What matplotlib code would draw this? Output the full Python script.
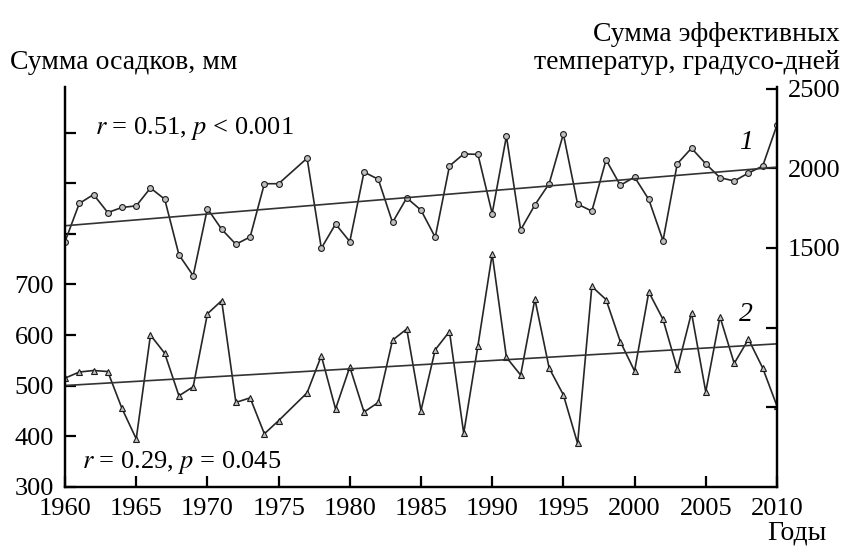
import numpy as np
import matplotlib.pyplot as plt

plt.rcParams['font.family'] = ['Liberation Serif', 'DejaVu Serif']
plt.rcParams['mathtext.fontset'] = 'stix'

# годы (1976 отсутствует)
years = [1960, 1961, 1962, 1963, 1964, 1965, 1966, 1967, 1968, 1969,
         1970, 1971, 1972, 1973, 1974, 1975, 1977, 1978, 1979, 1980,
         1981, 1982, 1983, 1984, 1985, 1986, 1987, 1988, 1989, 1990,
         1991, 1992, 1993, 1994, 1995, 1996, 1997, 1998, 1999, 2000,
         2001, 2002, 2003, 2004, 2005, 2006, 2007, 2008, 2009, 2010]

# 1 - сумма эффективных температур
temp_sum = [1540, 1779, 1835, 1722, 1754, 1764, 1876, 1806, 1457, 1326,
            1747, 1617, 1523, 1569, 1903, 1903, 2063, 1498, 1650, 1540,
            1976, 1931, 1660, 1814, 1737, 1567, 2014, 2090, 2087, 1716,
            2201, 1613, 1770, 1903, 2215, 1775, 1731, 2053, 1893, 1945,
            1804, 1546, 2028, 2126, 2028, 1941, 1920, 1970, 2014, 2271]

# 2 - сумма осадков
precip = [515, 527, 530, 528, 455, 395, 600, 564, 480, 498,
          642, 668, 467, 476, 405, 431, 486, 559, 454, 537,
          448, 467, 590, 612, 451, 571, 607, 406, 579, 760,
          556, 521, 671, 535, 482, 386, 696, 670, 587, 529,
          685, 631, 533, 644, 488, 636, 544, 592, 535, 460]

x = np.array(years)

fig = plt.figure(figsize=(8.48, 5.54), dpi=100)
ax = fig.add_axes([0.0767, 0.121, 0.8395, 0.722])
ax2 = ax.twinx()

lw = 1.2
ax.plot(x, precip, color='0.15', lw=lw, marker='^', ms=4.2,
        mfc='0.75', mec='0.1', mew=0.8)
k, b = np.polyfit(x, precip, 1)
ax.plot([1960, 2010], [k * 1960 + b, k * 2010 + b], color='0.2', lw=lw)

ax2.plot(x, temp_sum, color='0.15', lw=lw, marker='o', ms=4.2,
         mfc='0.75', mec='0.1', mew=0.8)
k2, b2 = np.polyfit(x, temp_sum, 1)
ax2.plot([1960, 2010], [k2 * 1960 + b2, k2 * 2010 + b2], color='0.2', lw=lw)

ax.set_xlim(1960, 2010)
ax.set_ylim(300, 1090)
ax2.set_ylim(0, 2510)

ax.set_xticks(range(1960, 2011, 5))
ax.set_yticks(range(300, 1001, 100))
ax.set_yticklabels(['300', '400', '500', '600', '700', '', '', ''])
ax2.set_yticks([500, 1000, 1500, 2000, 2500])
ax2.set_yticklabels(['', '', '1500', '2000', '2500'])

fs = 20
for a in (ax, ax2):
    a.spines['top'].set_visible(False)
    for s in ('left', 'right', 'bottom'):
        a.spines[s].set_linewidth(1.6)
    a.tick_params(direction='in', length=8, width=1.6, labelsize=19, pad=8)
ax.tick_params(axis='x', pad=8)

fig.text(0.012, 0.888, 'Сумма осадков, мм', fontsize=fs, ha='left', va='center')
fig.text(0.990, 0.937, 'Сумма эффективных', fontsize=fs, ha='right', va='center')
fig.text(0.990, 0.888, 'температур, градусо-дней', fontsize=fs, ha='right', va='center')
fig.text(0.975, 0.038, 'Годы', fontsize=fs, ha='right', va='center')

fig.text(0.229, 0.768, r'$r$ = 0.51, $p$ < 0.001', fontsize=19, ha='center', va='center')
fig.text(0.214, 0.166, r'$r$ = 0.29, $p$ = 0.045', fontsize=19, ha='center', va='center')
fig.text(0.880, 0.743, '1', fontsize=fs, fontstyle='italic', ha='center', va='center')
fig.text(0.880, 0.432, '2', fontsize=fs, fontstyle='italic', ha='center', va='center')

fig.savefig('out.png', dpi=100)
